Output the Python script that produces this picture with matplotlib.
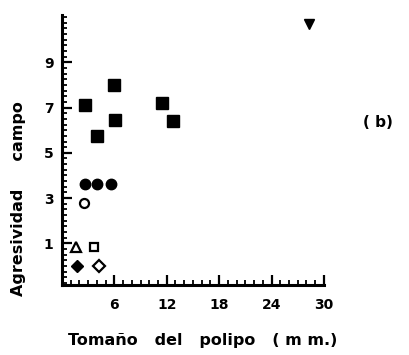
import matplotlib
matplotlib.use("Agg")
import matplotlib.pyplot as plt

# tamaño del pólipo (mm) vs agresividad en campo
sq_x = [2.6, 4.0, 6.0, 6.1, 11.5, 12.7]
sq_y = [7.1, 5.75, 8.0, 6.45, 7.2, 6.4]
fc_x = [2.6, 4.0, 5.6]
fc_y = [3.6, 3.6, 3.6]
oc_x = [2.5]
oc_y = [2.8]
ot_x = [1.6]
ot_y = [0.85]
os_x = [3.7]
os_y = [0.85]
fd_x = [1.7]
fd_y = [0.0]
od_x = [4.2]
od_y = [0.0]
tri_x = [28.3]
tri_y = [10.7]

xticks = [6, 12, 18, 24, 30]
yticks = [1, 3, 5, 7, 9]

plt.rcParams['font.family'] = ['DejaVu Sans']
plt.rcParams['font.weight'] = 'bold'

fig = plt.figure(figsize=(4.1, 3.55), dpi=100)
ax = fig.add_axes([0.151, 0.197, 0.639, 0.761])

ax.plot(sq_x, sq_y, 's', color='black', markersize=8, ls='none')
ax.plot(fc_x, fc_y, 'o', color='black', markersize=7.5, ls='none')
ax.plot(oc_x, oc_y, 'o', mfc='white', mec='black', mew=1.6, markersize=6.5, ls='none')
ax.plot(ot_x, ot_y, '^', mfc='white', mec='black', mew=1.6, markersize=6.5, ls='none')
ax.plot(os_x, os_y, 's', mfc='white', mec='black', mew=1.6, markersize=6, ls='none')
ax.plot(fd_x, fd_y, 'D', color='black', markersize=6.5, ls='none')
ax.plot(od_x, od_y, 'D', mfc='white', mec='black', mew=1.6, markersize=6, ls='none')
ax.plot(tri_x, tri_y, 'v', color='black', markersize=7.5, ls='none')

ax.set_xlim(0, 30)
ax.set_ylim(-0.85, 11.1)
ax.spines['top'].set_visible(False)
ax.spines['right'].set_visible(False)
ax.spines['left'].set_linewidth(2.2)
ax.spines['bottom'].set_linewidth(2.2)

ax.set_xticks(xticks)
ax.set_yticks(yticks)
ax.set_xticks(range(1, 31), minor=True)
ax.set_yticks([i * 0.25 for i in range(-3, 45)], minor=True)
ax.tick_params(which='major', direction='in', length=7, width=1.6,
               labelsize=10, pad=6)
ax.tick_params(axis='x', which='major', pad=9)
ax.tick_params(which='minor', direction='in', length=3.5, width=1.3)

fig.text(0.495, 0.042, 'Tomaño   del   polipo   ( m m.)', fontsize=11.5,
         fontweight='bold', ha='center', va='center')
fig.text(0.046, 0.44, 'Agresividad     campo', fontsize=11.5, fontweight='bold',
         rotation=90, ha='center', va='center')
fig.text(0.922, 0.655, '( b)', fontsize=11, fontweight='bold',
         ha='center', va='center')

fig.savefig('out.png', dpi=100)
